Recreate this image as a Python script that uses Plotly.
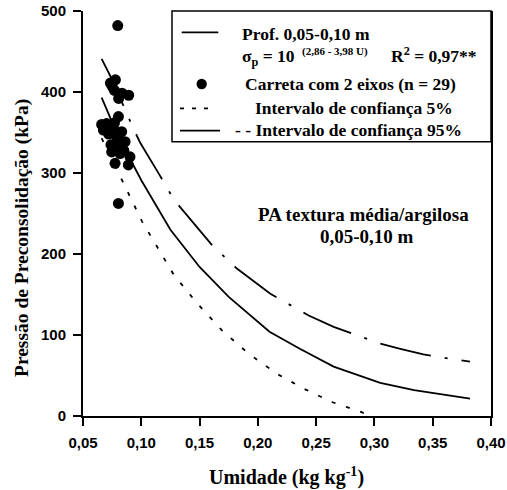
import plotly.graph_objects as go

# ---------------- data ----------------
# fitted curve  sigma_p = 10^(2.86 - 3.98 U)
fit_u = [0.066, 0.080, 0.100, 0.125, 0.150, 0.175, 0.210, 0.236, 0.265, 0.305, 0.334, 0.360, 0.382]
fit_v = [393, 346, 291, 230, 184, 147, 104, 83, 61, 41, 32, 26, 21.5]

# upper confidence band (95 %)
up_u = [0.066, 0.0744, 0.0935, 0.0992, 0.1155, 0.128, 0.1607, 0.182, 0.2107, 0.222,
        0.2436, 0.265, 0.282, 0.3036, 0.3222, 0.342, 0.3636, 0.382]
up_v = [441, 417, 354, 337, 298, 267, 211, 182, 151, 142, 124, 110, 101, 90, 83, 76, 71, 67]

# lower confidence band (5 %)
lo_u = [0.066, 0.0835, 0.1007, 0.1078, 0.128, 0.148, 0.169, 0.192, 0.2165, 0.239,
        0.2522, 0.264, 0.2765, 0.2885, 0.296]
lo_v = [343, 290, 240, 223, 174, 139, 106, 77, 52, 34, 25, 17, 11, 5, 0]

# observations: Carreta com 2 eixos (n = 29)
obs_u = [0.0798, 0.0735, 0.0778, 0.0750, 0.0835, 0.0892, 0.0806, 0.0703, 0.0804, 0.0675,
         0.0761, 0.0832, 0.0789, 0.0861, 0.0660, 0.0746, 0.0818, 0.0903, 0.0775, 0.0889,
         0.0804, 0.0720, 0.0770, 0.0820, 0.0740, 0.0790, 0.0850, 0.0770, 0.0710]
obs_v = [482, 411, 415, 407, 398.5, 396, 392, 361, 369.6, 353,
         355, 351, 345, 338.7, 360, 326, 324, 320, 312, 310,
         262.5, 348, 362, 340, 335, 330, 328, 402, 356]

x_tickvals = [0.05, 0.10, 0.15, 0.20, 0.25, 0.30, 0.35, 0.40]
x_ticktext = ["0,05", "0,10", "0,15", "0,20", "0,25", "0,30", "0,35", "0,40"]
y_tickvals = [0, 100, 200, 300, 400, 500]
y_ticktext = ["0", "100", "200", "300", "400", "500"]

# ---------------- layout helpers ----------------
W, H = 507, 490
L, R, T, B = 83, 16, 11, 74
PW, PH = W - L - R, H - T - B


def px(x):
    return (x - L) / PW


def py(y):
    return (H - B - y) / PH


SERIF = "Liberation Serif, Times New Roman, serif"
SANS = "Liberation Sans, Arial, sans-serif"
LW = 1.8

fig = go.Figure()
fig.add_trace(go.Scatter(x=fit_u, y=fit_v, mode="lines",
                         line=dict(color="black", width=LW), showlegend=False))
fig.add_trace(go.Scatter(x=up_u, y=up_v, mode="lines",
                         line=dict(color="black", width=LW, dash="52px,14px,3px,14px"),
                         showlegend=False))
fig.add_trace(go.Scatter(x=lo_u, y=lo_v, mode="lines",
                         line=dict(color="black", width=LW, dash="4px,11px"),
                         showlegend=False))
fig.add_trace(go.Scatter(x=obs_u, y=obs_v, mode="markers",
                         marker=dict(color="black", size=11, line=dict(width=0)),
                         showlegend=False))

axis_common = dict(showgrid=False, zeroline=False, showline=True, linecolor="black",
                   linewidth=2, ticks="outside", ticklen=8, tickwidth=2, tickcolor="black",
                   automargin=False,
                   tickfont=dict(family=SANS, size=15, color="black", weight="bold"))

fig.update_xaxes(range=[0.05, 0.40], tickvals=x_tickvals, ticktext=x_ticktext,
                 mirror=False, ticklabelstandoff=4, **axis_common)
fig.update_yaxes(range=[0, 500], tickvals=y_tickvals, ticktext=y_ticktext,
                 mirror=True, ticklabelstandoff=4, **axis_common)

ann = []
tfont = dict(family=SERIF, size=20, color="black", weight="bold")
# axis titles
ann.append(dict(text="Umidade (kg kg<sup>-1</sup>)", x=px(286.6), y=py(476),
                xref="paper", yref="paper", xanchor="center", yanchor="middle",
                showarrow=False, font=tfont))
ann.append(dict(text="Pressão de Preconsolidação (kPa)", x=px(22), y=py(238),
                xref="paper", yref="paper", xanchor="center", yanchor="middle",
                textangle=-90, showarrow=False,
                font=dict(family=SERIF, size=19.5, color="black", weight="bold")))
# in-plot label
ifont = dict(family=SERIF, size=19, color="black", weight="bold")
ann.append(dict(text="PA textura média/argilosa", x=px(363), y=py(214),
                xref="paper", yref="paper", xanchor="center", yanchor="middle",
                showarrow=False, font=ifont))
ann.append(dict(text="0,05-0,10 m", x=px(367), y=py(236),
                xref="paper", yref="paper", xanchor="center", yanchor="middle",
                showarrow=False, font=ifont))

# legend (drawn manually)
lfont = dict(family=SERIF, size=17.5, color="black", weight="bold")
legend_rows = [
    ("Prof. 0,05-0,10 m", 240, 34),
    ("σ<sub>p</sub> = 10", 240, 57),
    ("R<sup>2</sup> = 0,97**", 389, 55),
    ("Carreta com 2 eixos (n = 29)", 243, 84),
    ("Intervalo de confiança 5%", 253, 108),
    ("- - Intervalo de confiança 95%", 233, 130),
]
for txt, xl, yc in legend_rows:
    ann.append(dict(text=txt, x=px(xl), y=py(yc), xref="paper", yref="paper",
                    xanchor="left", yanchor="middle", showarrow=False, font=lfont))
# exponent of the fitted equation (small superscript)
ann.append(dict(text="(2,86 - 3,98 U)", x=px(300), y=py(51), xref="paper", yref="paper",
                xanchor="left", yanchor="middle", showarrow=False,
                font=dict(family=SERIF, size=11, color="black", weight="bold")))

shapes = [
    dict(type="rect", xref="paper", yref="paper", x0=px(172), x1=1.0, y0=py(141.7), y1=1.0,
         line=dict(color="black", width=1.5), fillcolor="white", layer="below"),
    dict(type="line", xref="paper", yref="paper", x0=px(181.7), x1=px(218.3),
         y0=py(32.3), y1=py(32.3), line=dict(color="black", width=LW)),
    dict(type="circle", xref="paper", yref="paper", x0=px(196.5), x1=px(206.9),
         y0=py(89.2), y1=py(78.8), fillcolor="black", line=dict(color="black", width=0)),
    dict(type="line", xref="paper", yref="paper", x0=px(180), x1=px(212),
         y0=py(108.3), y1=py(108.3), line=dict(color="black", width=LW, dash="4px,8px")),
    dict(type="line", xref="paper", yref="paper", x0=px(180), x1=px(220),
         y0=py(130.7), y1=py(130.7), line=dict(color="black", width=LW)),
]

fig.update_layout(width=W, height=H, margin=dict(l=L, r=R, t=T, b=B, autoexpand=False),
                  paper_bgcolor="white", plot_bgcolor="white",
                  annotations=ann, shapes=shapes, showlegend=False)

# remove the default 8px page margin so the figure sits at the window's top-left corner
fig.write_html("out.html", config={"displayModeBar": False},
               post_script="document.body.style.margin='0';document.body.style.overflow='hidden';")
